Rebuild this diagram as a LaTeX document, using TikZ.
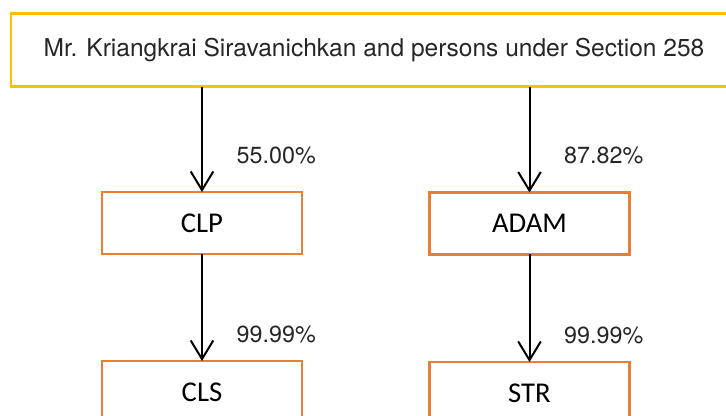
\documentclass[tikz,border=0pt]{standalone}
\usepackage{fontspec}
\setmainfont{TeX Gyre Heros}
\newfontfamily\boxfont{Carlito}
\usetikzlibrary{arrows.meta}
\definecolor{topgold}{HTML}{FFC000}
\definecolor{firmorange}{HTML}{ED7D31}
\definecolor{textgray}{HTML}{262626}

\begin{document}
\begin{tikzpicture}[x=0.75pt, y=-0.75pt,
    every node/.style={outer sep=0pt},
    owner/.style={draw=topgold, line width=1.8pt, minimum width=544.5pt, minimum height=55pt, text=textgray, font=\fontsize{18.4}{20}\selectfont},
    firm/.style={draw=firmorange, line width=1.6pt, minimum width=150pt, minimum height=46.5pt, font=\boxfont\fontsize{21.5}{24}\selectfont},
    share/.style={-{Straight Barb[length=14pt, width=17pt]}, line width=1.5pt},
    pct/.style={anchor=west, inner sep=0pt, xshift=26pt, text=textgray, font=\fontsize{17.5}{20}\selectfont}]
    \useasboundingbox (0,0) rectangle (726,416);
    \clip (0,0) rectangle (726,416);

    \node[owner] (owner) at (374, 50) {Mr. Kriangkrai Siravanichkan and persons under Section 258};
    \node[firm] (clp) at (202, 223) {CLP};
    \node[firm] (adam) at (529.5, 223.5) {ADAM};
    \node[firm] (cls) at (202, 392) {CLS};
    \node[firm] (str) at (529.5, 393) {STR};

    \draw[share] (owner.south -| clp.north) -- (clp.north) node[pct, pos=.65] {55.00\%};
    \draw[share] (owner.south -| adam.north) -- (adam.north) node[pct, pos=.65] {87.82\%};
    \draw[share] (clp) -- (cls) node[pct, pos=.75] {99.99\%};
    \draw[share] (adam) -- (str) node[pct, pos=.75] {99.99\%};
\end{tikzpicture}
\end{document}
